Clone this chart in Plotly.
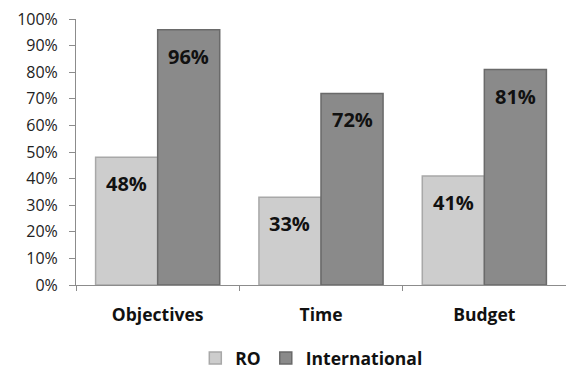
import plotly.graph_objects as go

categories = ["Objectives", "Time", "Budget"]
ro_values = [48, 33, 41]
intl_values = [96, 72, 81]
series_names = ["RO", "International"]
y_ticks = [0, 10, 20, 30, 40, 50, 60, 70, 80, 90, 100]
y_tick_labels = [f"{v}%" for v in y_ticks]

FONT = "Open Sans"
fig = go.Figure()
fig.add_trace(go.Bar(
    x=categories, y=ro_values, name=series_names[0],
    marker=dict(color="#cdcdcd", line=dict(color="#a8a8a8", width=1.5)),
))
fig.add_trace(go.Bar(
    x=categories, y=intl_values, name=series_names[1],
    marker=dict(color="#8a8a8a", line=dict(color="#6a6a6a", width=1.5)),
))

# data labels near the top inside each bar
bar_offset = 0.19  # in category units
for vals, off in ((ro_values, -bar_offset), (intl_values, bar_offset)):
    for i, v in enumerate(vals):
        fig.add_annotation(
            x=i + off, y=v, xref="x", yref="y", text=f"{v}%",
            showarrow=False, yanchor="top", yshift=-11,
            font=dict(family=FONT, size=20, color="#111111", weight="bold"),
        )

fig.update_layout(
    width=566, height=376,
    margin=dict(l=76, r=0, t=19, b=91),
    paper_bgcolor="white", plot_bgcolor="white",
    barmode="group", bargap=0.24, bargroupgap=0,
    showlegend=True,
    legend=dict(
        orientation="h", xref="container", yref="container",
        x=0.55, xanchor="center", y=0.0, yanchor="bottom",
        font=dict(family=FONT, size=17.5, color="#111111", weight="bold"),
        itemwidth=30, traceorder="normal",
    ),
    font=dict(family=FONT, color="#222222"),
)
fig.update_xaxes(
    type="category", showline=True, linecolor="#8c8c8c", linewidth=1,
    ticks="outside", tickson="boundaries", ticklen=5, tickcolor="#8c8c8c",
    tickfont=dict(family=FONT, size=17.5, color="#111111", weight="bold"),
    ticklabelstandoff=14,
    showgrid=False, range=[-0.5, 2.5],
)
fig.update_yaxes(
    range=[0, 100], tickvals=y_ticks, ticktext=y_tick_labels,
    showline=True, linecolor="#8c8c8c", linewidth=1,
    ticks="outside", ticklen=6, tickcolor="#8c8c8c",
    tickfont=dict(family=FONT, size=16, color="#222222"),
    ticklabelstandoff=8,
    showgrid=False, zeroline=False,
)

fig.write_html("out.html")
